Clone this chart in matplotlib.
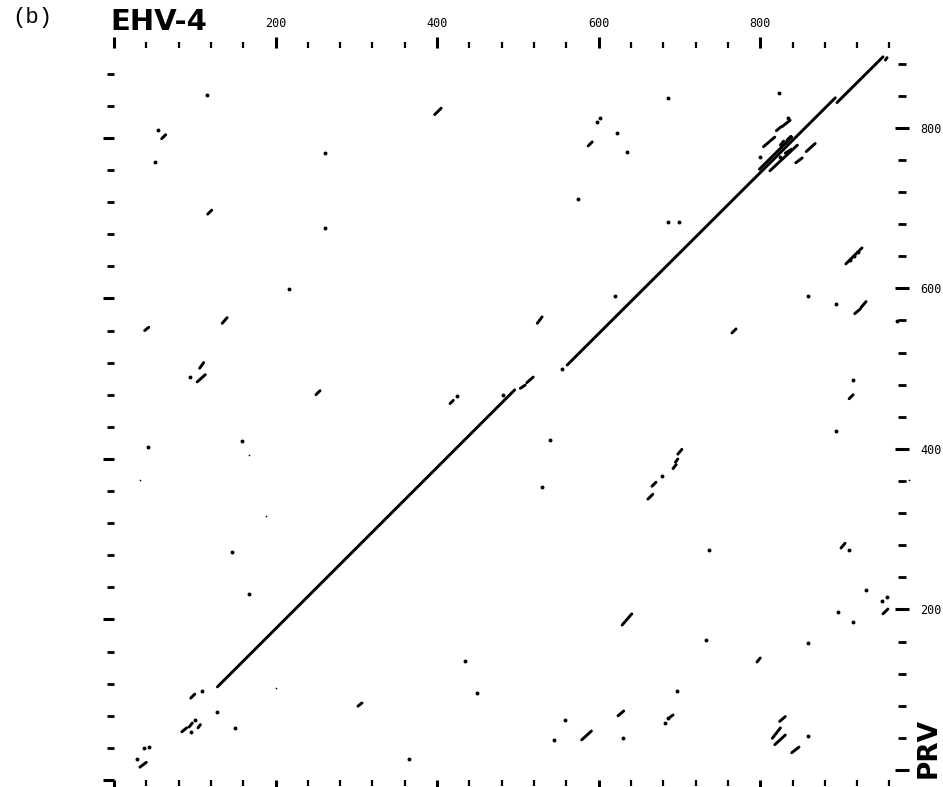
import matplotlib
matplotlib.use("Agg")
import matplotlib.pyplot as plt
from matplotlib.collections import LineCollection
from matplotlib.ticker import MultipleLocator, FixedLocator, FuncFormatter

# ---- data: similarity segments (EHV-4 position, PRV position) ----
seg_x0 = [128, 503, 511, 561, 895, 955,
          827, 820, 804, 799, 812, 857, 844, 831, 825, 833,
          397, 59, 587, 116, 906,
          524, 134, 38, 106, 103, 250, 416, 666, 661,
          765, 917, 925, 910, 698, 695, 692, 900, 952, 629,
          579, 624, 688, 796, 824, 815, 818, 839,
          95, 84, 93, 104, 302, 32]
seg_y0 = [116, 488, 495, 517, 844, 897,
          814, 809, 789, 761, 759, 783, 769, 781, 791, 797,
          829, 799, 790, 705, 643,
          569, 569, 560, 513, 496, 480, 469, 366, 350,
          557, 581, 589, 475, 406, 396, 388, 289, 207, 193,
          50, 80, 78, 147, 73, 52, 44, 34,
          102, 60, 66, 65, 92, 16]
seg_x1 = [496, 509, 519, 893, 952, 957,
          837, 826, 818, 839, 846, 868, 852, 839, 829, 838,
          405, 64, 592, 121, 926,
          530, 140, 43, 111, 113, 255, 420, 671, 667,
          770, 924, 931, 915, 703, 698, 696, 905, 958, 641,
          591, 631, 692, 800, 831, 825, 831, 848,
          100, 90, 97, 107, 307, 40]
seg_y1 = [486, 492, 502, 850, 901, 900,
          822, 814, 801, 801, 791, 793, 775, 786, 796, 802,
          837, 804, 795, 710, 663,
          577, 576, 564, 520, 505, 485, 473, 371, 356,
          562, 587, 596, 480, 412, 400, 393, 295, 213, 207,
          61, 86, 81, 152, 79, 65, 56, 41,
          107, 65, 71, 69, 96, 22]

dot_x = [823, 800, 824, 115, 686, 602, 834, 54, 598, 623, 635, 51, 261, 574,
         686, 700, 261, 217, 911, 916, 921, 620, 894, 969, 859, 894, 158, 42,
         425, 482, 555, 540, 530, 678, 146, 167, 737, 910, 896, 915, 859, 733,
         931, 951, 957, 435, 449, 545, 558, 630, 682, 686, 697, 859, 109, 128,
         100, 95, 150, 37, 43, 28, 365, 94, 915]
dot_y = [856, 776, 776, 854, 850, 825, 825, 810, 820, 806, 783, 770, 781, 724,
         695, 695, 688, 612, 648, 653, 658, 603, 593, 572, 603, 435, 422, 415,
         478, 480, 512, 424, 365, 379, 284, 232, 287, 287, 209, 197, 171, 174,
         237, 223, 228, 148, 108, 50, 75, 52, 71, 77, 111, 55, 111, 85,
         75, 60, 65, 40, 41, 26, 26, 502, 498]

speck_x = [167, 32, 188, 201, 984]
speck_y = [405, 374, 329, 115, 374]

x_major = [0, 200, 400, 600, 800]
y_major = [0, 200, 400, 600, 800]
x_label = "EHV-4"
y_label = "PRV"
panel = "(b)"

W, H = 943, 787
fig = plt.figure(figsize=(W / 100, H / 100), dpi=100)
fig.patch.set_facecolor("white")

left, right, bottom, top = 114, 902, 780, 48
ax = fig.add_axes([left / W, (H - bottom) / H, (right - left) / W, (bottom - top) / H])
for s in ax.spines.values():
    s.set_visible(False)

segs = [[(a, b), (c, d)] for a, b, c, d in zip(seg_x0, seg_y0, seg_x1, seg_y1)]
ax.add_collection(LineCollection(segs, colors="black", linewidths=2.1,
                                 capstyle="round"))
ax.scatter(dot_x, dot_y, s=8, c="black", linewidths=0, clip_on=False)
ax.scatter(speck_x, speck_y, s=1.5, c="black", linewidths=0, clip_on=False)

fmt = FuncFormatter(lambda v, p: "" if v == 0 else f"{int(v)}")

# x ticks (top labelled, bottom unlabelled)
ax.xaxis.set_major_locator(FixedLocator(x_major))
ax.xaxis.set_minor_locator(MultipleLocator(40))
ax.xaxis.set_ticks_position("both")
ax.xaxis.set_major_formatter(fmt)
ax.tick_params(axis="x", which="major", direction="out", length=8, width=2.2,
               top=True, bottom=True, labeltop=True, labelbottom=False, pad=5,
               labelsize=8.5)
ax.tick_params(axis="x", which="minor", direction="out", length=4.5, width=1.6,
               top=True, bottom=True)

# left y ticks (unlabelled)
ax.yaxis.set_major_locator(FixedLocator(y_major))
ax.yaxis.set_minor_locator(MultipleLocator(40))
ax.tick_params(axis="y", which="major", direction="out", length=8, width=2.2,
               left=True, right=False, labelleft=False, labelright=False)
ax.tick_params(axis="y", which="minor", direction="out", length=5, width=2.0,
               left=True, right=False)
ax.set_xlim(0, 975.5)
ax.set_ylim(0, 912)

# right y ticks (labelled, slightly offset as in the scan)
ax2 = ax.twinx()
for s in ax2.spines.values():
    s.set_visible(False)
ax2.yaxis.set_major_locator(FixedLocator(y_major))
ax2.yaxis.set_minor_locator(MultipleLocator(40))
ax2.yaxis.set_major_formatter(fmt)
ax2.tick_params(axis="y", which="major", direction="inout", length=10, width=2.2,
                labelsize=8.5, pad=8)
ax2.tick_params(axis="y", which="minor", direction="inout", length=6, width=2.0)
ax2.set_ylim(-12.5, 899.5)

for lab in ax.get_xticklabels() + ax2.get_yticklabels():
    lab.set_family("DejaVu Sans Mono")

fig.text(12 / W, 1 - 18 / H, panel, family="Liberation Mono", fontsize=16,
         ha="left", va="center")
fig.text(110 / W, 1 - 22 / H, x_label, family="DejaVu Sans", fontweight="bold",
         fontsize=21, ha="left", va="center")
fig.text(929 / W, 1 - 748 / H, y_label, family="DejaVu Sans", fontweight="bold",
         fontsize=19, ha="center", va="center", rotation=90)

fig.savefig("out.png", dpi=100, facecolor="white")
